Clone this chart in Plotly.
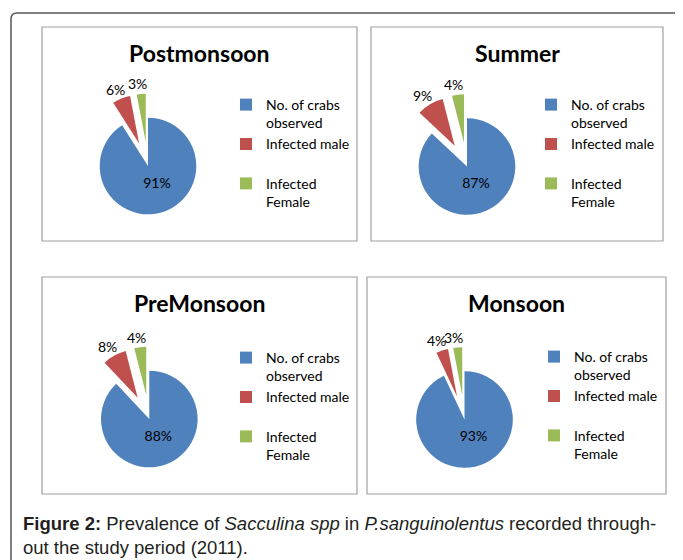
import math
import plotly.graph_objects as go

# ---------------- data ----------------
seasons = ["Postmonsoon", "Summer", "PreMonsoon", "Monsoon"]
categories = ["No. of crabs observed", "Infected male", "Infected Female"]
legend_labels = ["No. of crabs<br>observed", "Infected male<br> ", "Infected<br>Female"]
postmonsoon_pct = [91, 6, 3]
summer_pct = [87, 9, 4]
premonsoon_pct = [88, 8, 4]
monsoon_pct = [93, 4, 3]
series = [postmonsoon_pct, summer_pct, premonsoon_pct, monsoon_pct]
slice_pull = [0, 0.5, 0.5]
colors = ["#4F81BD", "#C0504D", "#9BBB59"]

caption_text = ("<b>Figure 2:</b> Prevalence of <i>Sacculina spp</i> in "
                "<i>P.sanguinolentus</i> recorded through-<br>out the study period (2011).")

# ---------------- layout geometry (target pixels in the 683x560 page) ----------------
PAGE_W, PAGE_H = 683, 560
OFF = 8                      # default body margin of the html page
FW, FH = PAGE_W - OFF, PAGE_H - OFF
FONT = "Lato"
pie_centers = [(148, 166), (467, 166.5), (149.3, 419), (464.5, 419.5)]
pie_radius = 48.3
outside_label_radius = 81
outside_label_shift = (-3, -1.5)
panels = [(42, 27, 357, 241), (371, 27, 663, 241), (42, 277, 357, 494), (367, 277, 666, 494)]
title_pos = [(199.5, 53), (517, 53), (199.5, 303), (516.5, 303)]
legend_pos = [(226, 89), (531, 89), (226, 342), (534, 341)]
NBSP = "\u00a0"


def px(x):
    return (x - OFF) / FW


def py(y):
    return 1 - (y - OFF) / FH


fig = go.Figure()
half = pie_radius * (1 + max(slice_pull))
annotations = []
for i, (name, vals) in enumerate(zip(seasons, series)):
    cx, cy = pie_centers[i]
    fig.add_trace(go.Pie(
        labels=legend_labels,
        values=vals,
        name=name,
        sort=False,
        direction="clockwise",
        rotation=0,
        pull=slice_pull,
        marker=dict(colors=colors, line=dict(width=0)),
        texttemplate=[NBSP * 5 + "%{percent:.0%}", "", ""],
        textposition=["inside", "none", "none"],
        insidetextorientation="horizontal",
        textfont=dict(family=FONT, size=14, color="#000000"),
        domain=dict(x=[px(cx - half), px(cx + half)], y=[py(cy + half), py(cy - half)]),
        legend="legend" if i == 0 else f"legend{i + 1}",
        legendgroup=f"pie{i}",
        showlegend=True,
        hoverinfo="label+percent",
    ))
    # percentage labels of the small, exploded slices (placed outside along each slice bisector)
    total = sum(vals)
    cum = 0
    for j, v in enumerate(vals):
        theta = 2 * math.pi * (cum + v / 2) / total
        cum += v
        if j == 0:
            continue
        lx = cx + outside_label_radius * math.sin(theta) + outside_label_shift[0]
        ly = cy - outside_label_radius * math.cos(theta) + outside_label_shift[1]
        annotations.append(dict(text=f"{round(100 * v / total)}%", x=px(lx), y=py(ly),
                                xref="paper", yref="paper", xanchor="center", yanchor="middle",
                                showarrow=False, font=dict(family=FONT, size=14, color="#000000")))

shapes = []
for (x0, y0, x1, y1) in panels:
    shapes.append(dict(type="rect", xref="paper", yref="paper",
                       x0=px(x0), x1=px(x1), y0=py(y1), y1=py(y0),
                       line=dict(color="#a0a0a0", width=1.2), fillcolor="rgba(0,0,0,0)", layer="below"))

# outer rounded frame (runs off the right and bottom edges)
r = 6
frame_path = (f"M {px(11)},{py(570)} L {px(11)},{py(13 + r)} "
              f"Q {px(11)},{py(13)} {px(11 + r)},{py(13)} L {px(700)},{py(13)}")
shapes.append(dict(type="path", xref="paper", yref="paper", path=frame_path,
                   line=dict(color="#555555", width=1.5)))

for i, name in enumerate(seasons):
    tx, ty = title_pos[i]
    annotations.append(dict(text=f"<b>{name}</b>", x=px(tx), y=py(ty), xref="paper", yref="paper",
                            xanchor="center", yanchor="middle", showarrow=False,
                            font=dict(family=FONT, size=23, color="#000000")))
annotations.append(dict(text=caption_text, x=px(21), y=py(535.5), xref="paper", yref="paper",
                        xanchor="left", yanchor="middle", align="left", showarrow=False,
                        font=dict(family="Liberation Sans, Arial, sans-serif", size=18.5,
                                  color="#231f20")))

layout_legends = {}
for i in range(4):
    lx, ly = legend_pos[i]
    key = "legend" if i == 0 else f"legend{i + 1}"
    layout_legends[key] = dict(x=px(lx), y=py(ly), xanchor="left", yanchor="top",
                               font=dict(family=FONT, size=14, color="#000000"),
                               bgcolor="rgba(0,0,0,0)", borderwidth=0, valign="top",
                               itemclick=False, itemdoubleclick=False)

fig.update_layout(
    width=FW, height=FH,
    margin=dict(l=0, r=0, t=0, b=0),
    paper_bgcolor="#ffffff", plot_bgcolor="#ffffff",
    shapes=shapes, annotations=annotations,
    **layout_legends,
)

fig.write_html("out.html")
